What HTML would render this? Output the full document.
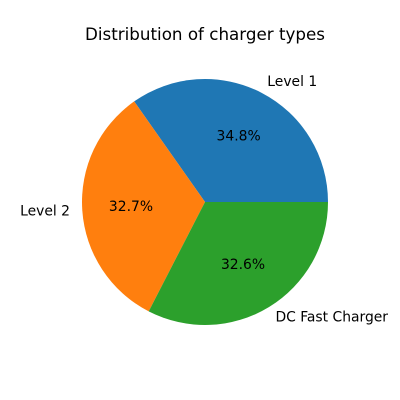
<!DOCTYPE html>
<html lang="en">
<head>
<meta charset="utf-8">
<title>Distribution of charger types</title>
<style>
  html, body { margin: 0; padding: 0; background: #fff; }
  svg { display: block; }
  text { font-family: "DejaVu Sans", "Liberation Sans", sans-serif; fill: #000; }
</style>
</head>
<body>
<svg id="chart" xmlns="http://www.w3.org/2000/svg" width="400" height="400" viewBox="0 0 400 400">
  <rect x="0" y="0" width="400" height="400" fill="#ffffff"></rect>
  <text x="205" y="40" text-anchor="middle" font-size="16.67" textLength="240" lengthAdjust="spacingAndGlyphs">Distribution of charger types</text>
  <g id="slices"></g>
  <g id="labels"></g>
</svg>
<script>
const categories = ['Level 1', 'Level 2', 'DC Fast Charger'];
const shares = [34.8, 32.7, 32.6];
const colors = ['#1f77b4', '#ff7f0e', '#2ca02c'];

const NS = 'http://www.w3.org/2000/svg';
const cx = 205, cy = 202, radius = 123;
const total = shares.reduce(function (a, b) { return a + b; }, 0);

function angleOf(cum) { return cum / total * 2 * Math.PI; }
function px(a, r) { return cx + r * Math.cos(a); }
function py(a, r) { return cy - r * Math.sin(a); }
function slug(s) { return s.toLowerCase().replace(/\s+/g, '-'); }

const sliceGroup = document.getElementById('slices');
const labelGroup = document.getElementById('labels');
let cum = 0;

shares.forEach(function (v, i) {
  const a0 = angleOf(cum);
  const a1 = angleOf(cum + v);
  const mid = (a0 + a1) / 2;
  cum += v;

  const large = (a1 - a0) > Math.PI ? 1 : 0;
  const path = document.createElementNS(NS, 'path');
  path.setAttribute('d', 'M' + cx + ' ' + cy + ' L' + px(a0, radius) + ' ' + py(a0, radius) +
    ' A' + radius + ' ' + radius + ' 0 ' + large + ' 0 ' + px(a1, radius) + ' ' + py(a1, radius) + ' Z');
  path.setAttribute('fill', colors[i]);
  
  
  sliceGroup.appendChild(path);

  const label = document.createElementNS(NS, 'text');
  label.setAttribute('x', px(mid, radius * 1.1));
  label.setAttribute('y', py(mid, radius * 1.1) + 4);
  label.setAttribute('font-size', '13.89');
  label.setAttribute('text-anchor', Math.cos(mid) >= 0 ? 'start' : 'end');
  label.textContent = categories[i];
  
  
  labelGroup.appendChild(label);

  const pct = document.createElementNS(NS, 'text');
  pct.setAttribute('x', px(mid, radius * 0.6) - 0.4);
  pct.setAttribute('y', py(mid, radius * 0.6) + 4);
  pct.setAttribute('font-size', '13.89');
  pct.setAttribute('text-anchor', 'middle');
  pct.textContent = (v / total * 100).toFixed(1) + '%';
  
  
  labelGroup.appendChild(pct);
});
</script>
</body>
</html>
